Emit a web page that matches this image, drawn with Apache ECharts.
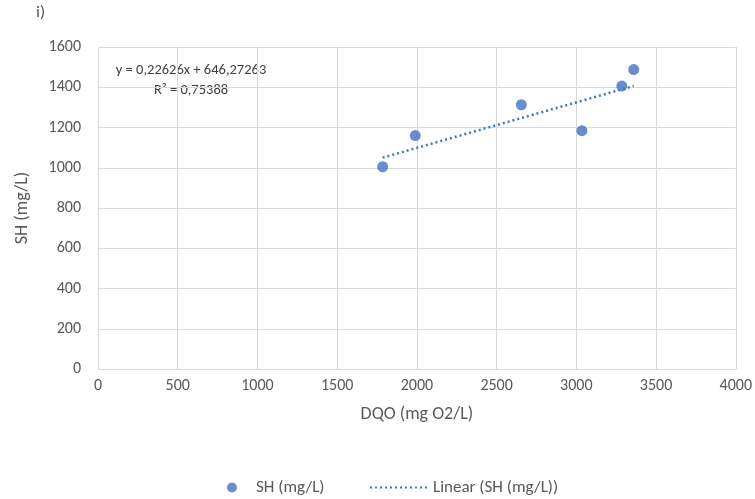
<!DOCTYPE html>
<html>
<head>
  <meta charset="utf-8">
  <title>SH vs DQO</title>
  <script src="https://cdn.jsdelivr.net/npm/echarts@6/dist/echarts.min.js"></script>
  <style>
    html, body { margin: 0; padding: 0; background: #fff; }
    #chart { width: 755px; height: 499px; }
  </style>
</head>
<body>
  <div id="chart"></div>
  <script>
    // datos
    var dqo = [1785, 1990, 2655, 3035, 3285, 3360];
    var sh = [1005, 1160, 1313, 1184, 1406, 1488];
    var xTicks = [0, 500, 1000, 1500, 2000, 2500, 3000, 3500, 4000];
    var yTicks = [0, 200, 400, 600, 800, 1000, 1200, 1400, 1600];
    var slope = 0.22626;
    var intercept = 646.27263;
    var r2 = '0,75388';

    var font = 'Carlito, "Liberation Sans", Arial, sans-serif';
    var gray = '#595959';
    var blue = '#4472C4';

    var points = dqo.map(function (x, i) { return [x, sh[i]]; });
    var xMin = Math.min.apply(null, dqo);
    var xMax = Math.max.apply(null, dqo);
    var trend = [[xMin, slope * xMin + intercept], [xMax, slope * xMax + intercept]];

    var chart = echarts.init(document.getElementById('chart'));
    chart.setOption({
      animation: false,
      textStyle: { fontFamily: font, color: gray },
      grid: { left: 98, right: 17, top: 47, bottom: 130 },
      graphic: [
        { type: 'text', left: 36, top: 4, style: { text: 'i)', font: '17px ' + font, fill: gray } },
        { type: 'text', x: 191, y: 70, style: { text: 'y = 0,22626x + 646,27263', font: '14.5px ' + font, fill: '#404040', align: 'center', verticalAlign: 'middle' } },
        { type: 'text', x: 191, y: 90, style: { text: 'R\u00b2 = ' + r2, font: '14.5px ' + font, fill: '#404040', align: 'center', verticalAlign: 'middle' } }
      ],
      legend: [
        { data: ['SH (mg/L)'], left: 222, top: 474, icon: 'circle', itemWidth: 10, itemHeight: 10, itemGap: 4,
          textStyle: { fontFamily: font, fontSize: 17, color: gray, padding: [0, 0, 0, 14] } },
        { data: [{ name: 'Linear (SH (mg/L))', itemStyle: { opacity: 0 } }], left: 364, top: 474,
          itemWidth: 60, itemHeight: 10, itemGap: 4,
          textStyle: { fontFamily: font, fontSize: 17, color: gray, padding: [0, 0, 0, -2] } }
      ],
      xAxis: {
        type: 'value', min: xTicks[0], max: xTicks[xTicks.length - 1], interval: 500,
        name: 'DQO (mg O2/L)', nameLocation: 'middle', nameGap: 36,
        nameTextStyle: { fontSize: 18, color: gray, fontFamily: font },
        axisLine: { show: true, lineStyle: { color: '#d9d9d9' } },
        axisTick: { show: false },
        axisLabel: { fontSize: 16, color: gray, margin: 9, formatter: function (v) { return String(v); } },
        splitLine: { show: true, lineStyle: { color: '#d9d9d9' } }
      },
      yAxis: {
        type: 'value', min: yTicks[0], max: yTicks[yTicks.length - 1], interval: 200,
        name: 'SH (mg/L)', nameLocation: 'middle', nameGap: 67, nameRotate: 90,
        nameTextStyle: { fontSize: 18, color: gray, fontFamily: font },
        axisLine: { show: false },
        axisTick: { show: false },
        axisLabel: { fontSize: 16, color: gray, margin: 17, formatter: function (v) { return String(v); } },
        splitLine: { show: true, lineStyle: { color: '#d9d9d9' } }
      },
      series: [
        {
          name: 'SH (mg/L)', type: 'scatter', data: points, symbolSize: 11,
          itemStyle: { color: blue }
        },
        {
          name: 'Linear (SH (mg/L))', type: 'line', data: trend, symbol: 'none',
          lineStyle: { color: blue, width: 2.5, type: [2, 3] },
          itemStyle: { color: blue }
        }
      ]
    });
  </script>
</body>
</html>
